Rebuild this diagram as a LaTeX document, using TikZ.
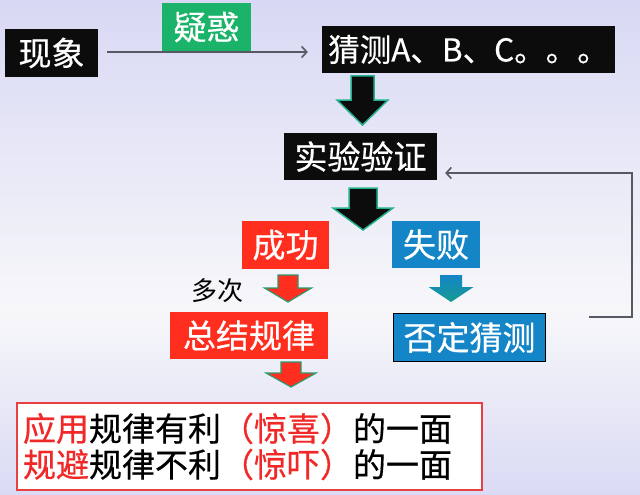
\documentclass[tikz,border=0pt]{standalone}
\usepackage{fontspec}
\setmainfont{Noto Sans CJK SC}
\newfontfamily\boxfont[FakeBold=0.5]{Noto Sans CJK SC}
\usetikzlibrary{arrows.meta}
\definecolor{bgtop}{HTML}{D8D8F4}
\definecolor{bgmid}{HTML}{F7F7FA}
\definecolor{bgbot}{HTML}{DADAF4}
\definecolor{boxblack}{HTML}{0C0C0C}
\definecolor{boxgreen}{HTML}{1BB36A}
\definecolor{boxred}{HTML}{FF2E1F}
\definecolor{boxblue}{HTML}{1485C7}
\definecolor{arrowteal}{HTML}{23B08C}
\definecolor{arrowgreen}{HTML}{2A9A70}
\definecolor{bluehead}{HTML}{159A92}
\definecolor{conngray}{HTML}{555A62}
\definecolor{txtred}{HTML}{F02828}
\definecolor{frame}{HTML}{E84040}
\newcommand\blockarrow[7]{\draw[#1, shift={(#2,#3)}] (-#4,0) -- (#4,0) -- (#4,#5) -- (#6,#5) -- (0,#7) -- (-#6,#5) -- (-#4,#5) -- cycle;}
\begin{document}
\begin{tikzpicture}[x=1pt,y=-1pt,
  box/.style={rectangle, inner sep=0pt, text=white, font=\boxfont\fontsize{33}{38}\selectfont},
  blackbox/.style={box, fill=boxblack},
  greenbox/.style={box, fill=boxgreen},
  redbox/.style={box, fill=boxred},
  bluebox/.style={box, fill=boxblue},
  conn/.style={draw=conngray, line width=1.6pt, -{Straight Barb[length=5pt,width=11pt]}},
  bigarrow/.style={fill=boxblack, draw=arrowteal, line width=1.5pt, line join=miter},
  redarrow/.style={fill=boxred, draw=arrowgreen, line width=1.2pt, line join=miter},
  bluearrow/.style={top color=boxblue, bottom color=bluehead, draw=none}]
\shade[top color=bgtop, bottom color=bgmid] (0,0) rectangle (640,310);
\shade[top color=bgmid, bottom color=bgbot] (0,310) rectangle (640,495);
\useasboundingbox (0,0) rectangle (640,495);

\node[blackbox, minimum width=93pt, minimum height=48pt] (xianxiang) at (51.5,53) {现象};
\node[greenbox, minimum width=89pt, minimum height=48pt] (yihuo) at (206.5,27) {疑惑};
\node[blackbox, minimum width=293pt, minimum height=47pt, font=\boxfont\fontsize{31.5}{38}\selectfont] (caice) at (468.5,49.5) {猜测A、B、C。。。};
\node[blackbox, minimum width=153pt, minimum height=47pt] (shiyan) at (360.5,156.5) {实验验证};
\node[redbox, minimum width=87pt, minimum height=48pt] (chenggong) at (285.5,245) {成功};
\node[bluebox, minimum width=88pt, minimum height=47pt] (shibai) at (436,244.5) {失败};
\node[font=\fontsize{26}{30}\selectfont] (duoci) at (217,291) {多次};
\node[redbox, minimum width=158pt, minimum height=47pt] (zongjie) at (249,335.5) {总结规律};
\node[bluebox, draw=black, line width=1.5pt, minimum width=152pt, minimum height=48pt] (fouding) at (469.5,337.5) {否定猜测};
\node[draw=frame, fill=white, line width=1.5pt, minimum height=87pt, text width=453pt, inner xsep=6pt, inner ysep=0pt, align=left, font=\boxfont\fontsize{33}{36}\selectfont] (yingyong) at (249.5,446.5) {\textcolor{txtred}{应用}规律有利\textcolor{txtred}{（惊喜）}的一面\\\textcolor{txtred}{规避}规律不利\textcolor{txtred}{（惊吓）}的一面};

\draw[conn, shorten <=9pt, shorten >=14pt] (xianxiang.east |- 0,52) -- (caice.west |- 0,52);
\draw[conn, shorten <=43pt, shorten >=8pt] (fouding.east |- 0,317) -| (632,173) -- (shiyan.east |- 0,173);

\blockarrow{bigarrow}{362.5}{76}{11.5}{24}{25.5}{49}
\blockarrow{bigarrow}{363}{188}{14}{20}{30}{42}
\blockarrow{redarrow}{288}{275}{10}{13}{23.5}{27}
\blockarrow{redarrow}{291}{362}{10}{11}{25}{25}
\blockarrow{bluearrow}{451}{275}{11}{12}{22.5}{27}
\end{tikzpicture}
\end{document}
